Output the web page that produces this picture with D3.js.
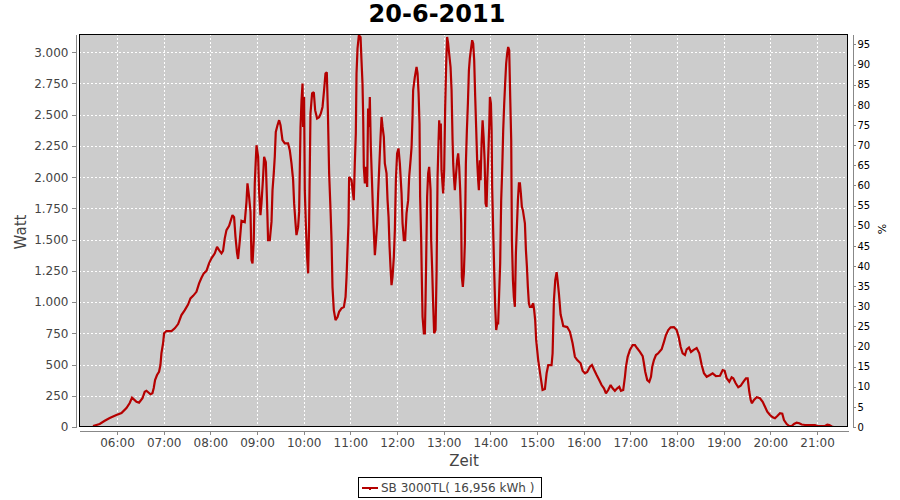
<!DOCTYPE html>
<html><head><meta charset="utf-8">
<script src="https://cdn.jsdelivr.net/npm/d3@7"></script>
<style>
body{margin:0;background:#fff}
svg{display:block}
text{font-family:"DejaVu Sans",sans-serif}
</style>
</head><body>
<svg id="chart" width="900" height="500"></svg>
<script>
const chartTitle = "20-6-2011";
const seriesName = "SB 3000TL( 16,956 kWh )";
const xAxisTitle = "Zeit";
const yAxisTitle = "Watt";
const y2AxisTitle = "%";

// time of each sample, minutes after midnight
const timeMinutes = [
329.1,337.7,344.2,350.6,359.2,365.7,372.1,376.3,379.3,385,388.3,392.7,395.6,397.8,403,405.5,407.2,408.9,411.4,414,
415.8,417.1,419.2,420.5,423.5,430,434.2,438.5,442.8,447.1,451.3,454.4,457.8,462.1,465.5,468.6,471.5,475,478.3,481.4,
485.7,488.6,491.2,494.3,496.3,498.5,500.7,504.1,507.1,508.4,510.5,512.3,514.3,515.6,517.8,520,524.2,526.4,527.7,529.8,
531.6,532.9,534.2,535.8,537.1,538.4,539.3,541.4,542.6,544.4,545.7,547.8,549.1,551.3,552.9,554.2,556.4,558.6,559.9,561.5,
562.8,564.1,566.3,568.4,570.2,572.7,575.7,579.9,582.1,584.3,586.4,587.7,589.5,590.7,592.8,594.1,595.9,597.2,598.5,599.2,
600.5,601.4,602.7,604.4,605.7,606.9,608.7,610.8,613,614.7,617.2,619.8,622,624.2,626.2,628,629.7,631,632.7,634.5,
635.8,637,638.7,640.9,643.5,645.5,648.6,651.6,653.8,655.1,656.3,657.6,658.4,661.5,662.8,664.4,665.7,667,667.9,669.2,
670.9,673.1,674.3,675.6,676.4,677.3,678.6,679.9,681.6,682.8,684.1,685,686.3,687.6,688.9,690.2,691.5,692.7,694.4,695.7,
697,698.8,700.1,701.4,703,704.3,706.5,707.8,709.1,710.4,711.6,712.9,714.2,715.9,717.2,718.5,720.1,721.9,723.6,725.8,
727.1,728.8,730.4,732.2,734.3,735.6,737.4,738.7,739.9,740.7,742.9,745.1,746.4,747.7,748.9,749.7,751,751.9,752.8,754.5,
755.8,756.6,757.4,758.7,760,761.3,763.1,763.9,765.2,766.4,767.7,769.5,770.8,772.1,773.4,774.2,775.1,776.3,777.2,779.3,
780.6,781.9,783.2,784.4,785.7,787,788.8,790.1,791.4,792.2,793.1,794.3,795.6,797.3,798.6,799.9,801.2,802.5,803.3,804.6,
805.9,807.2,808.5,809.8,811.1,812.4,813.6,814.9,816.6,817.9,819.2,820.5,821.7,823,824.3,825.2,826.5,827.4,828.7,830,
831.3,832.6,833.8,835.1,835.9,837.2,838.5,839.4,840.7,841.6,842.3,843.6,844.9,846.2,847.5,848.8,850,851.3,852.6,853.9,
855.2,856.5,857.8,859,860.3,861.6,862.9,864.2,865.5,866.8,867.7,869,870.2,871.5,872.8,874.1,875.4,876.7,878,879.2,
880.5,881.8,883.1,884.4,885.7,887,888.2,889.5,890.8,893,895.1,896.3,897.6,898.9,900.2,901.5,904.6,907.1,910.1,912.3,
914.4,918.7,920,921.7,923.4,925.2,926.4,928.1,930.3,932,933.7,938.8,942.3,945.7,948.7,951.7,956,958.6,961.6,964.5,
968,970.6,973.5,976.6,979.9,983,986,988.6,991.5,994.6,997.2,1000.1,1003.1,1005.7,1007.9,1010.8,1013,1014.3,1016.5,1019.4,
1022.9,1025.9,1028.8,1032.3,1035.8,1037.4,1039.1,1041.7,1044.3,1046.5,1048.1,1050.3,1052.9,1055.8,1060.2,1063.2,1065.7,1068.7,1071.8,1076,
1079.5,1082.1,1084.6,1087.2,1090.2,1092.4,1095.3,1097.9,1100.9,1105.2,1108.6,1111.7,1114.6,1118.1,1122.3,1125.8,1130,1135.2,1138.7,1141.2,
1143.8,1147.2,1150.2,1152.3,1155.4,1158.7,1161.8,1165.2,1168.6,1170.8,1172.9,1174.7,1176.3,1178.9,1182.4,1186.6,1190.1,1193.1,1196,1199.5,
1203,1205.9,1208.9,1212.4,1215.3,1217.5,1221,1224.3,1227.4,1230.4,1233.8,1237.2,1240.3,1244.5,1251,1257.4,1260.3,1266,1270.2,1273.2,
1275.8,1278.9,1280.9
];

// power in Watt for each sample
const wattValues = [
8,24,50,72,96,112,152,192,235,202,194,230,282,290,262,270,312,376,416,442,
496,592,670,750,768,768,790,824,896,936,980,1030,1050,1082,1150,1195,1230,1250,1310,1350,
1390,1442,1416,1390,1410,1510,1576,1610,1670,1696,1680,1522,1392,1345,1490,1650,1640,1800,1950,1842,
1722,1336,1310,1496,1950,2136,2256,2162,1896,1696,1790,2002,2162,2120,1790,1496,1496,1642,1896,2030,
2162,2362,2416,2456,2416,2296,2270,2270,2216,2110,1976,1790,1630,1536,1600,1722,2402,2616,2750,2402,
2642,1896,1630,1362,1230,1600,2510,2670,2680,2536,2470,2480,2510,2562,2696,2830,2840,2550,2030,1736,
1496,1122,936,856,880,922,950,960,1042,1202,1416,1630,2002,1976,1896,1816,2110,2350,2830,3030,
3136,3120,2936,2750,2510,2082,1950,2082,1922,2550,2402,2642,2242,2002,1762,1562,1376,1470,1630,1870,
2062,2322,2482,2402,2322,2110,2030,1816,1682,1442,1282,1136,1202,1362,1576,1976,2190,2230,2110,1870,
1630,1496,1496,1710,1816,2002,2136,2242,2482,2696,2802,2882,2830,2670,2430,1842,1522,1176,882,750,
750,1000,1310,1842,2030,2082,1896,1496,1256,990,750,776,1230,2002,2296,2456,2300,2430,2056,1870,
2056,2562,2910,3122,3070,2990,2882,2696,2296,2110,2002,1896,2002,2136,2190,2082,1896,1630,1202,1122,
1230,1470,2110,2376,2590,2856,2950,3016,3096,3070,2936,2642,2402,2136,1976,1896,2136,1976,2270,2456,
2322,2136,1790,1762,1950,2162,2402,2642,2590,2376,1922,1576,1256,962,776,830,830,1070,1310,1816,
2056,2376,2590,2750,2910,2990,3042,3016,2642,2296,1496,1176,1042,962,1390,1602,1816,1950,1950,1870,
1762,1736,1682,1630,1416,1282,1122,990,962,962,990,936,856,696,616,536,402,296,304,430,
496,496,590,1016,1176,1240,1176,1070,900,856,808,800,762,670,562,536,510,450,430,440,
482,496,456,416,376,336,310,270,296,336,310,290,310,322,290,296,402,482,562,616,
656,656,630,602,568,510,442,376,362,402,482,536,576,590,622,682,736,776,798,800,
776,722,642,590,576,622,636,600,616,632,590,496,430,402,416,430,408,410,456,450,
390,362,398,390,350,318,330,362,390,390,282,216,190,216,238,230,202,162,122,96,
78,70,88,110,106,56,24,8,8,24,35,30,20,16,16,16,8,8,8,18,
16,4,2
];

const wattTicks = [0,250,500,750,1000,1250,1500,1750,2000,2250,2500,2750,3000];
const percentTicks = [0,5,10,15,20,25,30,35,40,45,50,55,60,65,70,75,80,85,90,95];
const hourTickLabels = ["06:00","07:00","08:00","09:00","10:00","11:00","12:00","13:00","14:00","15:00","16:00","17:00","18:00","19:00","20:00","21:00"];
const timeDomainMinutes = [311.1, 1299.8];
const wattDomain = [0, 3146];
const percentDomain = [0, 97.6];

const day = new Date(2011, 5, 20, 0, 0, 0);
const toDate = m => new Date(day.getTime() + m * 60000);
const data = timeMinutes.map((m, i) => ({t: toDate(m), w: wattValues[i]}));
const hourDates = hourTickLabels.map(s => { const [h, mi] = s.split(":").map(Number); return toDate(h * 60 + mi); });

const plot = {left: 79, top: 34, right: 848, bottom: 427};

const x = d3.scaleTime().domain(timeDomainMinutes.map(toDate)).range([plot.left, plot.right]);
const y = d3.scaleLinear().domain(wattDomain).range([plot.bottom, plot.top]);
const y2 = d3.scaleLinear().domain(percentDomain).range([plot.bottom, plot.top]);

const svg = d3.select("#chart");
const de = d3.formatLocale({decimal: ",", thousands: ".", grouping: [3], currency: ["", ""]});
const fmtW = de.format(",d");

// title
svg.append("text").attr("x", 437).attr("y", 22).attr("text-anchor", "middle")
  .attr("font-size", 24).attr("font-weight", "bold").attr("fill", "#000").text(chartTitle);

// plot background
svg.append("rect").attr("x", plot.left).attr("y", plot.top)
  .attr("width", plot.right - plot.left).attr("height", plot.bottom - plot.top).attr("fill", "#cccccc");

// gridlines
const grid = svg.append("g").attr("stroke", "#fff").attr("stroke-width", 1)
  .attr("stroke-dasharray", "2,2").attr("shape-rendering", "crispEdges");
grid.selectAll("line.h").data(wattTicks).join("line").attr("class", "h")
  .attr("x1", plot.left).attr("x2", plot.right)
  .attr("y1", d => Math.round(y(d)) + 0.5).attr("y2", d => Math.round(y(d)) + 0.5);
grid.selectAll("line.v").data(hourDates).join("line").attr("class", "v")
  .attr("y1", plot.top).attr("y2", plot.bottom)
  .attr("x1", d => Math.round(x(d)) + 0.5).attr("x2", d => Math.round(x(d)) + 0.5);

// clip
svg.append("defs").append("clipPath").attr("id", "clip").append("rect")
  .attr("x", plot.left).attr("y", plot.top).attr("width", plot.right - plot.left).attr("height", plot.bottom - plot.top);

// line
const line = d3.line().x(d => x(d.t)).y(d => y(d.w));
svg.append("path").datum(data).attr("clip-path", "url(#clip)")
  .attr("fill", "none").attr("stroke", "#b50000").attr("stroke-width", 2.2)
  .attr("stroke-linejoin", "miter").attr("stroke-miterlimit", 2).attr("d", line);

// plot border
svg.append("rect").attr("x", plot.left + 0.5).attr("y", plot.top + 0.5)
  .attr("width", plot.right - plot.left - 1).attr("height", plot.bottom - plot.top - 1)
  .attr("fill", "none").attr("stroke", "#000").attr("stroke-width", 1).attr("shape-rendering", "crispEdges");

function styleAxis(g, color, size) {
  g.selectAll("path.domain").attr("stroke", "#888");
  g.selectAll(".tick line").attr("stroke", "#888");
  g.selectAll("text").attr("fill", color).attr("font-size", size).attr("font-family", "DejaVu Sans, sans-serif");
  g.attr("shape-rendering", "crispEdges");
}

// left axis
const gl = svg.append("g").attr("transform", "translate(75.5,0)")
  .call(d3.axisLeft(y).tickValues(wattTicks).tickFormat(fmtW).tickSize(4).tickSizeOuter(0).tickPadding(3));
styleAxis(gl, "#444", 12);

// bottom axis
const gb = svg.append("g").attr("transform", "translate(0,430.5)")
  .call(d3.axisBottom(x).tickValues(hourDates).tickFormat(d3.timeFormat("%H:%M")).tickSize(4).tickSizeOuter(0).tickPadding(4));
styleAxis(gb, "#444", 12);

// right axis
const gr = svg.append("g").attr("transform", "translate(852.5,0)")
  .call(d3.axisRight(y2).tickValues(percentTicks).tickSize(3).tickSizeOuter(0).tickPadding(2));
styleAxis(gr, "#000", 10);

// axis titles
svg.append("text").attr("x", 464).attr("y", 466).attr("text-anchor", "middle")
  .attr("font-size", 15).attr("fill", "#444").text(xAxisTitle);
svg.append("text").attr("transform", "translate(26,232) rotate(-90)").attr("text-anchor", "middle")
  .attr("font-size", 15).attr("fill", "#444").text(yAxisTitle);
svg.append("text").attr("transform", "translate(886,229) rotate(-90)").attr("text-anchor", "middle")
  .attr("font-size", 11).attr("fill", "#000").text(y2AxisTitle);

// legend
const lg = svg.append("g");
lg.append("rect").attr("x", 358.5).attr("y", 477.5).attr("width", 183).attr("height", 20)
  .attr("fill", "#fff").attr("stroke", "#000").attr("shape-rendering", "crispEdges");
lg.append("line").attr("x1", 362).attr("x2", 378).attr("y1", 488).attr("y2", 488)
  .attr("stroke", "#b50000").attr("stroke-width", 2);
lg.append("rect").attr("x", 369).attr("y", 488).attr("width", 2).attr("height", 2).attr("fill", "#b50000");
lg.append("text").attr("x", 381).attr("y", 492).attr("font-size", 12).attr("fill", "#444").text(seriesName);
</script>
</body></html>
